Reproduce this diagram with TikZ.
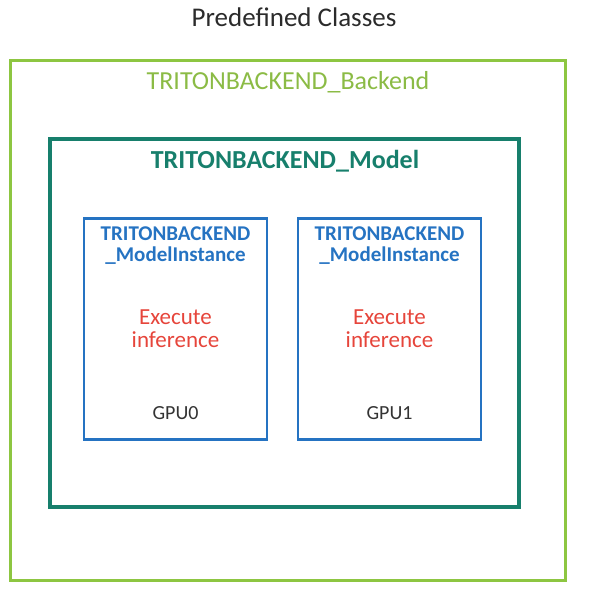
\documentclass[tikz,border=0pt]{standalone}
\usepackage{fontspec}
\setmainfont{Carlito}
\usetikzlibrary{positioning}
\definecolor{backendgreen}{HTML}{8DC641}
\definecolor{backendtext}{HTML}{8BBB45}
\definecolor{modelteal}{HTML}{177F6C}
\definecolor{instblue}{HTML}{2573C2}
\definecolor{execred}{HTML}{E6453B}
\definecolor{gputext}{HTML}{333333}
\definecolor{titletext}{HTML}{2B2B2B}

\begin{document}
\begin{tikzpicture}[x=1pt, y=-1pt,
    box/.style={draw, rectangle, inner sep=0pt},
    instbox/.style={box, draw=instblue, line width=2.6pt, minimum width=183pt, minimum height=221pt},
    instlabel/.style={text=instblue, font=\fontsize{21}{21}\selectfont\bfseries, align=center},
    execlabel/.style={text=execred, font=\fontsize{23}{23}\selectfont, align=center},
    gpulabel/.style={text=gputext, font=\fontsize{20}{24}\selectfont}]
    \useasboundingbox (0,0) rectangle (590,605);
    % title
    \node[text=titletext, font=\fontsize{27}{30}\selectfont] (title) at (294,17) {Predefined Classes};
    % backend
    \node[box, draw=backendgreen, line width=3pt, minimum width=555pt, minimum height=520pt] (backend) at (287.5,320) {};
    \node[text=backendtext, font=\fontsize{26}{30}\selectfont] (backendlabel) at (288,82) {TRITONBACKEND\_Backend};
    % model
    \node[box, draw=modelteal, line width=3.5pt, minimum width=469pt, minimum height=368pt] (model) at (284.5,323) {};
    \node[text=modelteal, font=\fontsize{26}{30}\selectfont\bfseries] (modellabel) at (285,161) {TRITONBACKEND\_Model};
    % model instances
    \foreach \n/\x in {0/175.5, 1/389.5} {
        \node[instbox] (inst\n) at (\x,329) {};
        \node[instlabel] (instlabel\n) at (\x,246) {TRITONBACKEND\\\_ModelInstance};
        \node[execlabel] (exec\n) at (\x,329) {Execute\\inference};
        \node[gpulabel] (gpu\n) at (\x,413) {GPU\n};
    }
\end{tikzpicture}
\end{document}
